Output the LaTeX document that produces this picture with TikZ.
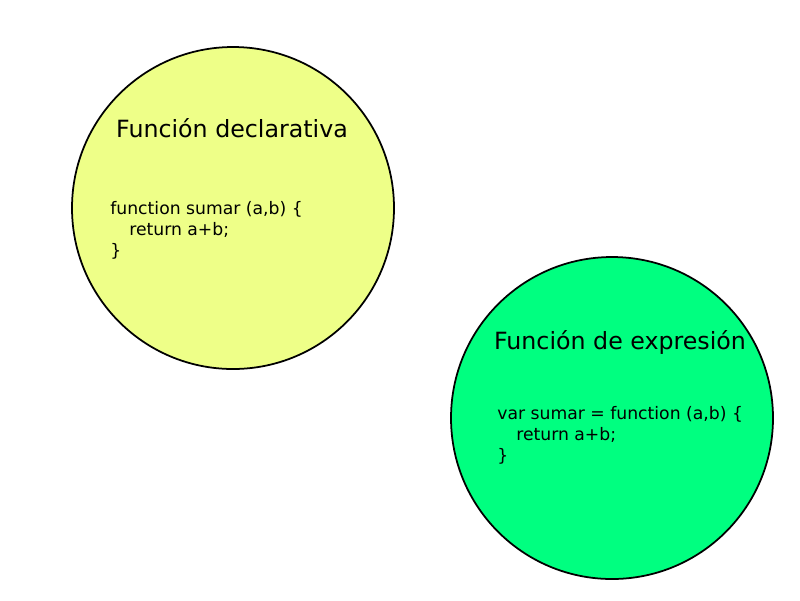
\documentclass[tikz,border=0pt]{standalone}
\usepackage{fontspec}
\setmainfont{DejaVu Sans}
\definecolor{amarillo}{RGB}{238,255,136}
\definecolor{verde}{RGB}{0,255,128}
\begin{document}
\begin{tikzpicture}[x=0.02cm,y=-0.02cm,
    burbuja/.style={draw=black, line width=1pt},
    titulo/.style={font=\fontsize{13.5}{16}\selectfont},
    codigo/.style={font=\fontsize{9.8}{12}\selectfont, align=left, anchor=north west, inner sep=0pt}]
    \useasboundingbox (0,0) rectangle (800,600);
    \draw[burbuja, fill=amarillo] (233,208) circle [radius=161];
    \node[titulo] (tdecl) at (232,128) {Función declarativa};
    \node[codigo] (cdecl) at (110,201) {function sumar (a,b) \{\\\hspace*{1.1em}return a+b;\\\}};
    \draw[burbuja, fill=verde] (612,418) circle [radius=161];
    \node[titulo] (texpr) at (620,342) {Función de expresión};
    \node[codigo] (cexpr) at (497,406) {var sumar = function (a,b) \{\\\hspace*{1.1em}return a+b;\\\}};
\end{tikzpicture}
\end{document}
